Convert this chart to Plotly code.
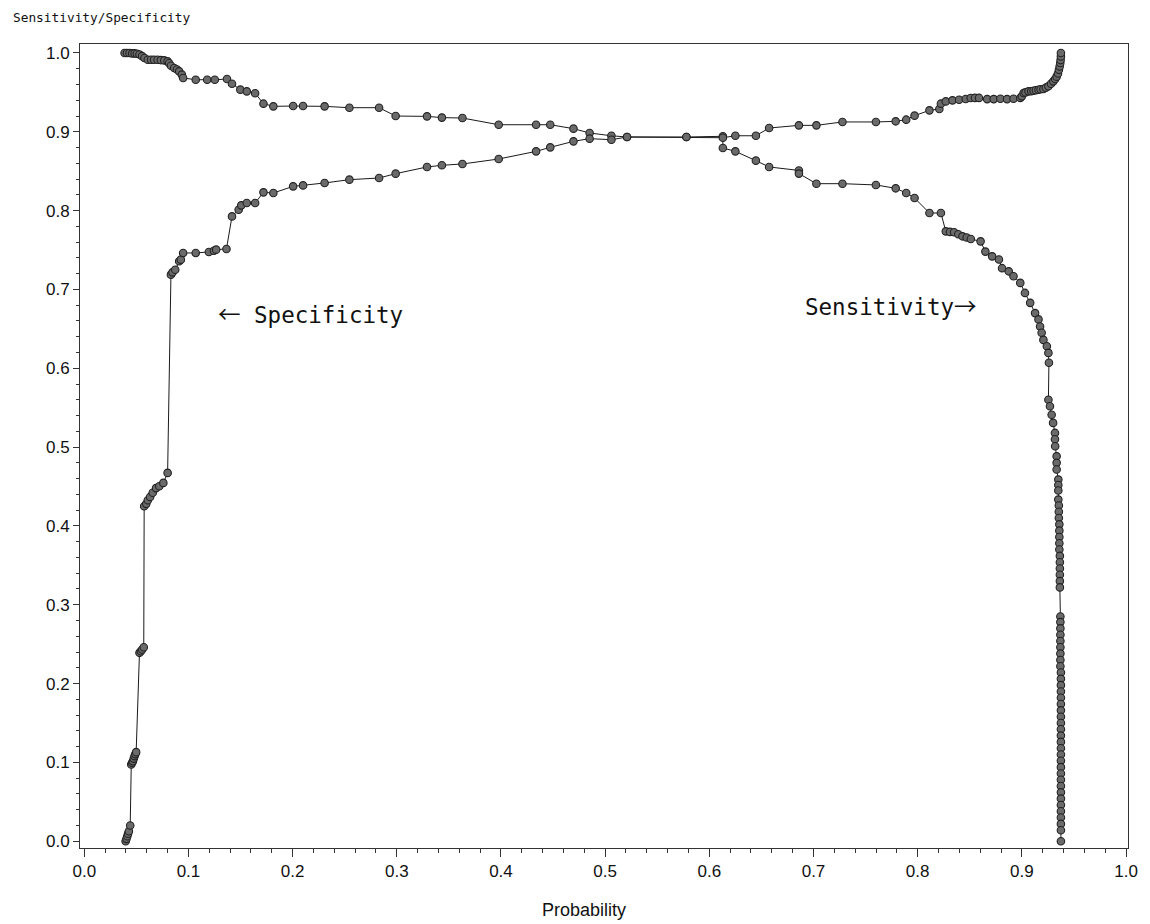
import plotly.graph_objects as go

# ---------------- data ----------------
sens_x = [0.0387, 0.041, 0.0435, 0.046, 0.0483, 0.0505, 0.053, 0.0555, 0.0578, 0.061,
          0.0641, 0.067, 0.0704, 0.0735, 0.0768, 0.080, 0.0815, 0.0832, 0.0863, 0.089,
          0.0911, 0.0937, 0.0949, 0.107, 0.118, 0.1253, 0.137, 0.1418, 0.1498, 0.156,
          0.164, 0.172, 0.1815, 0.2005, 0.21, 0.2307, 0.2545, 0.283, 0.2989, 0.329,
          0.3433, 0.363, 0.3978, 0.4337, 0.4473, 0.4696, 0.4851, 0.506, 0.521, 0.578,
          0.613, 0.613, 0.625, 0.6447, 0.6574, 0.686, 0.686, 0.7028, 0.7278, 0.7599,
          0.7789, 0.789, 0.797, 0.8113, 0.8223, 0.827, 0.831, 0.835, 0.839, 0.843,
          0.847, 0.851, 0.8604, 0.865, 0.8715, 0.878, 0.881, 0.8874, 0.892, 0.8985,
          0.903, 0.908, 0.9127, 0.916, 0.9175, 0.919, 0.9207, 0.924, 0.9255, 0.926,
          0.9255, 0.927, 0.9286, 0.930, 0.9318, 0.9318, 0.932, 0.9334, 0.9334, 0.9334,
          0.935, 0.935, 0.935, 0.935, 0.9355, 0.9355, 0.9355, 0.936, 0.936, 0.936,
          0.936, 0.936, 0.9365, 0.9365, 0.9365, 0.9365, 0.9365, 0.9365,
          0.937, 0.937, 0.937, 0.937, 0.937, 0.937, 0.937, 0.937, 0.937,
          0.9375, 0.9375, 0.9375, 0.9375, 0.9375, 0.9375, 0.9375, 0.9375, 0.9375, 0.9375,
          0.9375, 0.9375, 0.9375, 0.9375, 0.9375, 0.9375, 0.9375, 0.9375,
          0.9375, 0.9375, 0.9375, 0.9375, 0.9375, 0.9375, 0.9375, 0.9375, 0.9375]
sens_y = [1.0, 1.0, 1.0, 0.9995, 0.9995, 0.999, 0.998, 0.996, 0.9937, 0.9915,
          0.9915, 0.9915, 0.9915, 0.991, 0.9906, 0.9894, 0.987, 0.9839, 0.981, 0.979,
          0.9767, 0.9725, 0.9683, 0.9661, 0.9661, 0.966, 0.967, 0.961, 0.9535, 0.9513,
          0.949, 0.9357, 0.9323, 0.9327, 0.9327, 0.9323, 0.9306, 0.9306, 0.920, 0.9196,
          0.918, 0.9175, 0.909, 0.909, 0.909, 0.904, 0.8985, 0.895, 0.8934, 0.8934,
          0.8943, 0.8795, 0.8752, 0.8634, 0.8554, 0.851, 0.847, 0.8342, 0.8342, 0.8326,
          0.8283, 0.8224, 0.816, 0.797, 0.797, 0.7737, 0.773, 0.7725, 0.770, 0.7674,
          0.766, 0.764, 0.761, 0.748, 0.742, 0.738, 0.727, 0.723, 0.7167, 0.7083,
          0.6956, 0.683, 0.670, 0.662, 0.653, 0.645, 0.636, 0.628, 0.6195, 0.607,
          0.560, 0.5518, 0.541, 0.5307, 0.518, 0.510, 0.501, 0.4883, 0.480, 0.4715,
          0.4588, 0.452, 0.445, 0.4334, 0.426, 0.418, 0.410, 0.402, 0.394, 0.386,
          0.378, 0.370, 0.362, 0.354, 0.346, 0.338, 0.330, 0.322,
          0.285, 0.278, 0.270, 0.262, 0.254, 0.246, 0.238, 0.230, 0.222,
          0.214, 0.206, 0.198, 0.190, 0.182, 0.174, 0.166, 0.158, 0.150, 0.142,
          0.134, 0.126, 0.118, 0.110, 0.102, 0.094, 0.086, 0.078,
          0.070, 0.062, 0.054, 0.046, 0.038, 0.030, 0.022, 0.014, 0.0]

spec_x = [0.0397, 0.0405, 0.0413, 0.042, 0.0428, 0.0441, 0.0451, 0.0459, 0.0467, 0.0475,
          0.0483, 0.049, 0.0498, 0.053, 0.0543, 0.0556, 0.0571, 0.0575, 0.0595, 0.061,
          0.0632, 0.0657, 0.0689, 0.072, 0.0759, 0.080, 0.0832, 0.0847, 0.0873, 0.0911,
          0.0927, 0.0949, 0.107, 0.1196, 0.1244, 0.1266, 0.1365, 0.1418, 0.1482, 0.1507,
          0.156, 0.164, 0.172, 0.1815, 0.2005, 0.21, 0.2307, 0.2545, 0.283, 0.2989,
          0.329, 0.3433, 0.363, 0.3978, 0.4337, 0.4473, 0.4696, 0.4851, 0.506, 0.521,
          0.578, 0.613, 0.625, 0.6447, 0.6574, 0.686, 0.7028, 0.7278, 0.7599, 0.7789,
          0.789, 0.797, 0.8113, 0.8208, 0.8223, 0.827, 0.8334, 0.8398, 0.8461, 0.8509,
          0.855, 0.8589, 0.8667, 0.873, 0.8794, 0.8858, 0.892, 0.8985, 0.9,
          0.9017, 0.9035, 0.9064, 0.909, 0.9112, 0.9135, 0.916, 0.918, 0.9207, 0.923,
          0.9255, 0.928, 0.9302, 0.932, 0.9334, 0.9347, 0.9356, 0.9363, 0.9369, 0.9372,
          0.9375, 0.9375]
spec_y = [0.0, 0.003, 0.0063, 0.0095, 0.0127, 0.02, 0.0973, 0.0995, 0.1015, 0.1048,
          0.108, 0.1105, 0.113, 0.239, 0.241, 0.2432, 0.246, 0.425, 0.428, 0.4325,
          0.4368, 0.442, 0.448, 0.4503, 0.4546, 0.4673, 0.7188, 0.7217, 0.725, 0.7357,
          0.7378, 0.7463, 0.7463, 0.7476, 0.7492, 0.7505, 0.7514, 0.7927, 0.8012, 0.8067,
          0.8097, 0.8097, 0.8232, 0.8224, 0.8308, 0.832, 0.8351, 0.8393, 0.8414, 0.8469,
          0.8554, 0.8575, 0.8592, 0.8655, 0.8752, 0.8803, 0.8879, 0.8913, 0.890, 0.8934,
          0.8934, 0.8925, 0.895, 0.895, 0.9048, 0.9082, 0.9082, 0.9125, 0.9125, 0.9133,
          0.9154, 0.9205, 0.9272, 0.929, 0.9357, 0.9386, 0.9399, 0.9407, 0.9416, 0.9428,
          0.943, 0.943, 0.9415, 0.9415, 0.942, 0.9415, 0.942, 0.943, 0.945,
          0.9492, 0.950, 0.9513, 0.9515, 0.952, 0.9527, 0.9534, 0.954, 0.9543, 0.956,
          0.9577, 0.961, 0.964, 0.967, 0.970, 0.974, 0.9788, 0.983, 0.9873, 0.991,
          0.9957, 1.0]

x_ticks = [0.0, 0.1, 0.2, 0.3, 0.4, 0.5, 0.6, 0.7, 0.8, 0.9, 1.0]
y_ticks = [0.0, 0.1, 0.2, 0.3, 0.4, 0.5, 0.6, 0.7, 0.8, 0.9, 1.0]
tick_text = ["0.0", "0.1", "0.2", "0.3", "0.4", "0.5", "0.6", "0.7", "0.8", "0.9", "1.0"]

# ---------------- figure ----------------
marker = dict(symbol="circle", size=7.5, color="#6a6a6a",
              line=dict(color="#222222", width=1.1))
line = dict(color="#1a1a1a", width=1)

fig = go.Figure()
fig.add_trace(go.Scatter(x=sens_x, y=sens_y, mode="lines+markers",
                         name="Sensitivity", marker=marker, line=line))
fig.add_trace(go.Scatter(x=spec_x, y=spec_y, mode="lines+markers",
                         name="Specificity", marker=marker, line=line))

tickfont = dict(family="Liberation Sans, Arial, sans-serif", size=17, color="#111")
axis_common = dict(showgrid=False, zeroline=False, showline=True, linecolor="#333",
                   linewidth=1, mirror=True, ticks="outside", tickcolor="#333",
                   tickwidth=1, tickfont=tickfont, tickmode="array",
                   tickvals=x_ticks, ticktext=tick_text)

fig.update_xaxes(range=[-0.0041, 1.0019], ticklen=8,
                 minor=dict(dtick=0.02, tick0=0, ticks="outside", ticklen=4,
                            tickcolor="#333", showgrid=False),
                 **axis_common)
fig.update_yaxes(range=[-0.0086, 1.0114], ticklen=6,
                 minor=dict(dtick=0.02, tick0=0, ticks="outside", ticklen=3,
                            tickcolor="#333", showgrid=False),
                 **{**axis_common, "tickvals": y_ticks})

mono = "DejaVu Sans Mono, monospace"
cjk = "'Noto Sans CJK JP'"
# the page body adds an 8 px margin, so the figure is 8 px smaller and shifted
fig.update_layout(
    width=1142, height=916,
    margin=dict(l=72, r=13, t=36, b=76),
    paper_bgcolor="white", plot_bgcolor="white",
    showlegend=False,
    annotations=[
        dict(text="Sensitivity/Specificity", xref="paper", yref="paper",
             x=-0.0662, y=1.033, xanchor="left", yanchor="middle", showarrow=False,
             font=dict(family=mono, size=12.8, color="#111")),
        dict(text="Probability", xref="paper", yref="paper",
             x=0.4806, y=-0.0777, xanchor="center", yanchor="middle", showarrow=False,
             font=dict(family="Liberation Sans, Arial, sans-serif", size=18, color="#111")),
        dict(text=f"<span style=\"font-family:{cjk}\">←</span> Specificity",
             xref="x", yref="y", x=0.1262, y=0.6706, xanchor="left", yanchor="middle",
             showarrow=False, font=dict(family=mono, size=22.5, color="#111")),
        dict(text=f"Sensitivity<span style=\"font-family:{cjk}\">→</span>",
             xref="x", yref="y", x=0.6897, y=0.6807, xanchor="left", yanchor="middle",
             showarrow=False, font=dict(family=mono, size=22.5, color="#111")),
    ],
)

fig.write_html("out.html")
